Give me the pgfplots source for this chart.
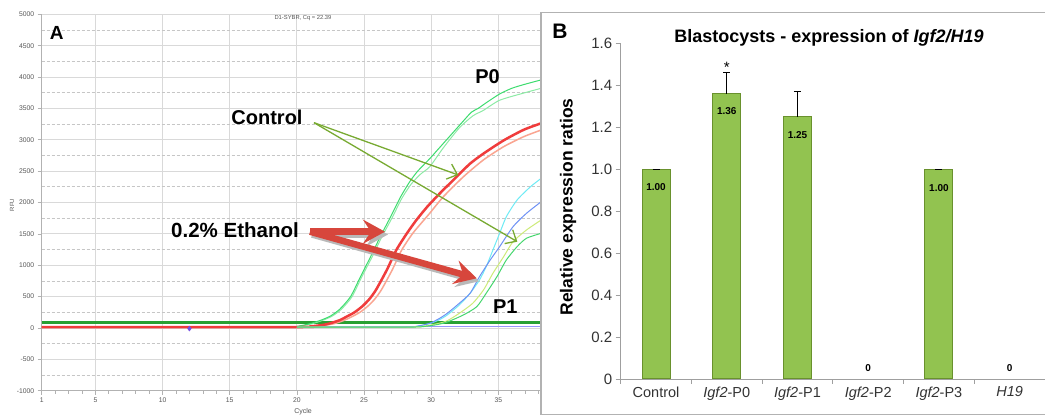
\documentclass[border=0pt]{standalone}
\usepackage{pgfplots}
\pgfplotsset{compat=1.18}
\usepackage{fontspec}
\setmainfont{Liberation Sans}
\usetikzlibrary{arrows.meta}
\definecolor{cGa}{RGB}{60,220,110}
\definecolor{cGb}{RGB}{140,235,165}
\definecolor{cRed}{RGB}{240,60,60}
\definecolor{cSal}{RGB}{250,165,145}
\definecolor{cCy}{RGB}{110,235,245}
\definecolor{cBl}{RGB}{110,145,245}
\definecolor{cYG}{RGB}{205,235,120}
\definecolor{cGP}{RGB}{70,215,110}
\definecolor{cThr}{RGB}{40,160,50}
\definecolor{cLav}{RGB}{150,150,250}
\definecolor{cPink}{RGB}{225,90,160}
\definecolor{cArrG}{RGB}{120,170,50}
\definecolor{cArrR}{RGB}{215,70,60}
\definecolor{barM}{RGB}{146,195,80}
\definecolor{barE}{RGB}{105,145,45}
\definecolor{tickA}{RGB}{85,85,85}
\begin{document}
\begin{tikzpicture}[x=1pt,y=1pt]
\useasboundingbox (0,0) rectangle (1045,417);
\fill[white] (0,0) rectangle (1045,417);
% ---------------- Panel A ----------------
\begin{axis}[
  at={(41.7pt,26.3pt)}, anchor=south west, scale only axis,
  width=499.3pt, height=376.4pt,
  xmin=1, xmax=38.18, ymin=-1000, ymax=5000,
  axis lines*=left,
  axis line style={draw=gray!60, line width=0.8pt},
  xtick={1,5,10,15,20,25,30,35}, xticklabels={1,5,10,15,20,25,30,35},
  minor xtick={1,...,38},
  ytick={-1000,-500,0,500,1000,1500,2000,2500,3000,3500,4000,4500,5000},
  yticklabels={-1000,-500,0,500,1000,1500,2000,2500,3000,3500,4000,4500,5000},
  extra y ticks={-750,-250,250,750,1250,1750,2250,2750,3250,3750,4250,4750},
  extra y tick labels={},
  extra y tick style={grid=major, major grid style={draw=gray!45, dash pattern=on 3pt off 2pt, line width=0.7pt}, major tick length=0pt},
  ymajorgrids, xmajorgrids,
  major grid style={draw=gray!30, line width=0.8pt},
  tick align=outside, major tick length=4pt, minor tick length=3pt,
  tick style={draw=gray!60, line width=0.7pt},
  ticklabel style={font=\fontsize{6.8}{8}\selectfont, text=tickA},
]
\addplot[cPink, line width=2pt] coordinates {(1,15)(20,15)};
\addplot[cLav, line width=1.2pt] coordinates {(20,18)(38.18,18)};
\addplot[cThr, line width=2.5pt] coordinates {(1,85)(38.18,85)};
% P0 curves
\addplot[cGb, line width=1pt, smooth, tension=0.4] coordinates {(1,15)(19,15)(20,22)(21,60)(21.9,120)(22.6,185)(23.3,295)(24.1,495)(24.8,800)(25.6,1130)(26.3,1440)(27.1,1760)(27.8,2060)(28.5,2290)(29.2,2450)(29.9,2571)(30.9,2870)(32.1,3190)(33.1,3380)(33.9,3470)(35.1,3630)(36.9,3745)(38.2,3821)};
\addplot[cGa, line width=1pt, smooth, tension=0.4] coordinates {(1,15)(19,15)(20,25)(21,70)(21.8,125)(22.5,190)(23.2,300)(24.0,500)(24.7,800)(25.5,1140)(26.2,1450)(27.0,1780)(27.7,2080)(28.4,2330)(29.0,2500)(29.9,2700)(30.4,2820)(31.4,3060)(32.4,3300)(33.0,3440)(33.5,3500)(34.1,3590)(35.1,3730)(36.0,3820)(36.9,3880)(38.2,3955)};
\addplot[cSal, line width=1.5pt, smooth, tension=0.4] coordinates {(1,15)(20,15)(21,22)(22,40)(22.8,70)(23.5,120)(24.1,180)(24.7,250)(25.3,350)(25.8,460)(26.3,610)(27.1,925)(27.8,1240)(28.6,1500)(29.3,1680)(29.9,1830)(30.9,2090)(32.4,2410)(33.9,2680)(35.4,2890)(36.9,3050)(38.2,3156)};
\addplot[cRed, line width=2.5pt, smooth, tension=0.4] coordinates {(1,15)(20,15)(21,25)(22,50)(22.5,75)(23.2,125)(23.7,180)(24.3,250)(24.9,350)(25.4,460)(25.9,610)(26.7,925)(27.4,1240)(28.2,1510)(28.9,1720)(29.7,1930)(30.4,2090)(30.9,2200)(31.9,2410)(32.9,2620)(33.9,2780)(35.4,2990)(36.9,3160)(38.2,3263)};
% P1 curves
\addplot[cCy, line width=1pt, smooth, tension=0.4] coordinates {(20,15)(28,15)(29,28)(29.9,70)(30.6,130)(31.2,207)(32.1,367)(32.9,553)(33.6,765)(34.1,977)(34.6,1243)(35.1,1509)(35.6,1774)(36.4,2040)(37.4,2252)(38.2,2386)};
\addplot[cBl, line width=1pt, smooth, tension=0.4] coordinates {(20,15)(28,15)(29,30)(29.9,75)(30.6,150)(31.2,234)(32.1,394)(32.9,553)(33.6,818)(34.4,1084)(35.1,1296)(36.1,1615)(37.1,1828)(38.2,2013)};
\addplot[cYG, line width=1pt, smooth, tension=0.4] coordinates {(20,15)(28.5,15)(29.3,25)(29.9,45)(30.6,75)(31.2,115)(32.1,234)(33.1,394)(33.9,606)(34.6,872)(35.4,1137)(36.1,1376)(37.1,1562)(38.2,1722)};
\addplot[cGP, line width=1pt, smooth, tension=0.4] coordinates {(20,15)(28.5,15)(29.3,20)(29.9,35)(30.6,60)(31.2,95)(32.4,207)(33.4,340)(34.1,553)(34.9,818)(35.6,1084)(36.4,1296)(37.1,1430)(38.2,1509)};
\addplot[only marks, mark=diamond*, mark size=2.5pt, color={rgb,255:red,120;green,80;blue,230}] coordinates {(12,-10)};
\end{axis}
% Panel A texts
\node[font=\fontsize{5.8}{7}\selectfont, text=tickA] at (303,398.5) {D1-SYBR, Cq = 22.39};
\node[font=\fontsize{6}{7}\selectfont, text=tickA, rotate=90] at (12,212) {RFU};
\node[font=\fontsize{7}{8}\selectfont, text=tickA] at (303,5) {Cycle};
\node[font=\bfseries\fontsize{19}{22}\selectfont] at (56.7,384.3) {A};
% arrows
\draw[cArrG, line width=1.3pt, -{Straight Barb[length=9pt,width=16pt]}] (314,294.3) -- (458.3,242);
\draw[cArrG, line width=1.3pt, -{Straight Barb[length=9pt,width=16pt]}] (314,294.3) -- (517.3,175.3);
\draw[gray!55, line width=6.5pt, -{Stealth[length=22pt,width=24pt,inset=8pt]}] (312,182.5) -- (388,182.5);
\draw[gray!55, line width=6.5pt, -{Stealth[length=22pt,width=24pt,inset=8pt]}] (312,182.5) -- (479,135.7);
\draw[cArrR, line width=6.5pt, -{Stealth[length=22pt,width=24pt,inset=8pt]}] (310,185.3) -- (385,185.3);
\draw[cArrR, line width=6.5pt, -{Stealth[length=22pt,width=24pt,inset=8pt]}] (310,185.3) -- (476.7,138.7);
\node[font=\bfseries\fontsize{20}{24}\selectfont] at (267,300) {Control};
\node[font=\bfseries\fontsize{20.5}{24}\selectfont] at (235,187) {0.2\% Ethanol};
\node[font=\bfseries\fontsize{20}{24}\selectfont] at (487.5,340.3) {P0};
\node[font=\bfseries\fontsize{20}{24}\selectfont] at (505.3,110.3) {P1};
% ---------------- Panel B ----------------
\fill[white] (541,2.7) rectangle (1050,404.3);
\draw[gray!60, line width=1.2pt] (541,2.7) rectangle (1050,404.3);
\begin{axis}[
  at={(620.7pt,38pt)}, anchor=south west, scale only axis,
  width=424.3pt, height=335.7pt,
  xmin=-0.5, xmax=5.5, ymin=0, ymax=1.6,
  axis lines*=left, axis line style={draw=gray!75, line width=0.8pt},
  ytick={0,0.2,0.4,0.6,0.8,1.0,1.2,1.4,1.6},
  yticklabels={0,0.2,0.4,0.6,0.8,1.0,1.2,1.4,1.6},
  xtick={-0.5,0.5,1.5,2.5,3.5,4.5,5.5}, xticklabels={},
  extra x ticks={0,1,2,3,4,5},
  extra x tick labels={Control,{\textit{Igf2}-P0},{\textit{Igf2}-P1},{\textit{Igf2}-P2},{\textit{Igf2}-P3},{\textit{H19}}},
  extra x tick style={major tick length=0pt, tick label style={yshift=-4pt}},
  tick align=outside, major tick length=5pt,
  tick style={draw=gray!75, line width=0.8pt},
  ticklabel style={font=\fontsize{14.5}{17}\selectfont, text=black!80},
  yticklabel style={font=\fontsize{15}{18}\selectfont},
  clip=false,
]
\addplot[ybar, bar width=28pt, fill=barM, draw=barE, line width=1pt] coordinates {(0,1.00)(1,1.36)(2,1.25)(4,1.00)};
\addplot[draw=none, mark=none, forget plot, error bars/.cd, y dir=plus, y explicit,
  error bar style={draw=black, line width=0.9pt},
  error mark options={rotate=90, mark size=3.5pt, draw=black, line width=0.9pt}]
  coordinates {(0,1.00) +- (0,0.0) (1,1.36) +- (0,0.10) (2,1.25) +- (0,0.12) (4,1.00) +- (0,0.0)};
\node[font=\bfseries\fontsize{10}{12}\selectfont] at (axis cs:0,0.915) {1.00};
\node[font=\bfseries\fontsize{10}{12}\selectfont] at (axis cs:1,1.275) {1.36};
\node[font=\bfseries\fontsize{10}{12}\selectfont] at (axis cs:2,1.165) {1.25};
\node[font=\bfseries\fontsize{10}{12}\selectfont] at (axis cs:4,0.912) {1.00};
\node[font=\bfseries\fontsize{10}{12}\selectfont] at (axis cs:3,0.054) {0};
\node[font=\bfseries\fontsize{10}{12}\selectfont] at (axis cs:5,0.054) {0};
\node[font=\fontsize{15}{18}\selectfont] at (axis cs:1,1.485) {*};
\end{axis}
\node[font=\bfseries\fontsize{17.5}{20}\selectfont, rotate=90] at (568,210) {Relative expression ratios};
\node[font=\bfseries\fontsize{18}{21}\selectfont] at (829,379.5) {Blastocysts - expression of \textit{Igf2/H19}};
\node[font=\bfseries\fontsize{21}{24}\selectfont] at (560,386) {B};
\end{tikzpicture}
\end{document}
